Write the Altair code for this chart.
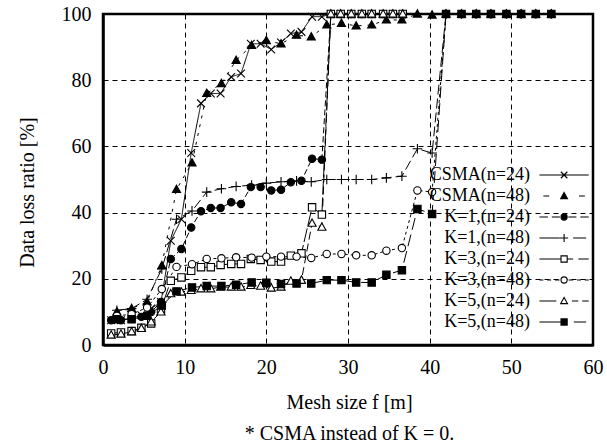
import altair as alt
import pandas as pd

# ---------------- data ----------------
series_names = ["CSMA(n=24)", "CSMA(n=48)", "K=1,(n=24)", "K=1,(n=48)",
                "K=3,(n=24)", "K=3,(n=48)", "K=5,(n=24)", "K=5,(n=48)"]

x_n24 = [1.0, 2.2, 3.5, 4.7, 5.9, 7.1, 8.3, 9.6, 10.8, 12.0, 13.2, 14.4, 15.7, 16.9, 18.1,
         19.3, 20.6, 21.8, 23.0, 24.3, 25.6, 26.8, 27.9, 29.1, 30.4, 31.7, 32.9, 34.3, 35.5, 36.7]
x_n48 = [1.7, 3.5, 5.4, 7.2, 9.0, 10.9, 12.7, 14.5, 16.3, 18.2, 20.0, 21.8, 23.7, 25.5, 27.4,
         29.2, 31.0, 32.9, 34.7, 36.6, 38.5, 40.3, 42.0, 43.9, 45.7, 47.5, 49.4, 51.2, 53.0, 54.9]

csma_n24 = [7.5, 7.5, 8.0, 9.0, 11.0, 13.0, 31.5, 38.0, 58.0, 73.0, 76.0, 76.0, 81.0, 82.0, 91.0,
            91.0, 89.3, 91.4, 94.1, 94.6, 99.2, 99.2, 100, 100, 100, 100, 100, 100, 100, 100]
csma_n48 = [10.0, 11.0, 13.0, 24.0, 47.0, 55.0, 76.0, 79.0, 86.0, 90.5, 92.0, 91.0, 93.6, 93.1, 96.7,
            97.2, 96.4, 96.7, 98.2, 98.2, 100, 99.7, 100, 100, 100, 100, 100, 100, 100, 100]
k1_n24 = [7.5, 7.5, 8.0, 8.5, 10.0, 13.0, 26.0, 29.0, 35.5, 40.4, 41.4, 41.4, 43.1, 42.6, 47.7,
          47.7, 46.7, 46.9, 49.2, 49.6, 56.3, 56.0, 100, 100, 100, 100, 100, 100, 100, 100]
k1_n48 = [10.5, 11.0, 13.8, 23.0, 38.0, 40.5, 46.2, 47.2, 47.9, 48.3, 48.9, 49.3, 49.6, 49.3, 50.0,
          50.0, 50.0, 50.0, 50.5, 51.0, 59.3, 58.0, 100, 100, 100, 100, 100, 100, 100, 100]
k3_n24 = [3.5, 3.8, 4.2, 5.2, 6.5, 10.8, 19.4, 20.4, 22.4, 23.5, 23.5, 24.2, 24.5, 24.5, 26.0,
          25.7, 25.2, 25.2, 27.0, 27.7, 41.6, 39.4, 100, 100, 100, 100, 100, 100, 100, 100]
k3_n48 = [8.8, 9.3, 11.3, 16.9, 23.6, 24.4, 26.0, 26.2, 26.5, 26.4, 26.7, 26.7, 26.7, 26.3, 27.5,
          27.5, 27.1, 27.1, 28.5, 29.3, 46.7, 46.2, 100, 100, 100, 100, 100, 100, 100, 100]
k5_n24 = [3.0, 3.3, 4.0, 5.0, 7.0, 10.0, 15.5, 16.0, 16.5, 17.0, 17.0, 17.5, 17.5, 17.5, 18.0,
          17.8, 17.2, 17.5, 19.3, 19.6, 36.8, 35.6, 100, 100, 100, 100, 100, 100, 100, 100]
k5_n48 = [7.8, 7.8, 8.8, 11.9, 16.2, 17.4, 17.8, 17.8, 18.2, 18.9, 18.8, 18.4, 18.6, 18.6, 19.6,
          19.6, 18.9, 18.9, 21.2, 22.6, 41.1, 39.6, 100, 100, 100, 100, 100, 100, 100, 100]

x_ticks = [0, 10, 20, 30, 40, 50, 60]
y_ticks = [0, 10, 20, 30, 40, 50, 60, 70, 80, 90, 100]

# ---------------- styles ----------------
series_values = [csma_n24, csma_n48, k1_n24, k1_n48, k3_n24, k3_n48, k5_n24, k5_n48]
series_x = [x_n24, x_n48, x_n24, x_n48, x_n24, x_n48, x_n24, x_n48]


def mk_x(c):
    return f"M{c-1},-1L{c+1},1M{c-1},1L{c+1},-1"


def mk_tri(c):
    return f"M{c},-1.1L{c+1.05},0.8L{c-1.05},0.8Z"


def mk_circ(c):
    return f"M{c-0.95},0A0.95,0.95,0,1,0,{c+0.95},0A0.95,0.95,0,1,0,{c-0.95},0Z"


def mk_plus(c):
    return f"M{c-1.25},0H{c+1.25}M{c},-1.25V1.25"


def mk_sq(c):
    return f"M{c-0.95},-0.95H{c+0.95}V0.95H{c-0.95}Z"


marker_fns = [mk_x, mk_tri, mk_circ, mk_plus, mk_sq, mk_circ, mk_tri, mk_sq]
markers = [f(0) for f in marker_fns]
fills = ["black", "black", "black", "black", "white", "white", "white", "black"]
strokes = ["black"] * 8
dashes = [[1, 0], [3, 6], [6, 3], [10, 4], [14, 3], [3, 3], [8, 4], [12, 5]]

# legend line samples (segments in symbol units, around the marker)
legend_segments = [
    [(-7.6, 7.6)],
    [(-6.4, -4.6), (4.6, 6.4)],
    [(-7.6, -5), (-3.8, -1.3), (1.3, 3.8), (5, 7.6)],
    [(-7.6, -1.3), (2.8, 6.8)],
    [(-7.6, -0.95), (0.95, 2.8), (4.4, 7.6)],
    [(-7.6, -6.4), (-5.2, -4), (-2.8, -1.4), (1.4, 2.8), (4, 5.2), (6.4, 7.6)],
    [(-7.6, -2.4), (2.4, 4.4), (5.6, 7.6)],
    [(-7.6, -0.95), (3, 6.8)],
]
SHIFT = 13.3  # draw the sample to the right of the (right-aligned) label
legend_symbols = [
    "".join(f"M{SHIFT + a},0H{SHIFT + b}" for a, b in segs) + fn(SHIFT)
    for segs, fn in zip(legend_segments, marker_fns)
]

rows = []
for name, xs, ys in zip(series_names, series_x, series_values):
    for i, (xv, yv) in enumerate(zip(xs, ys)):
        rows.append({"series": name, "x": xv, "y": yv, "i": i})
df = pd.DataFrame(rows)

FONT = "Liberation Serif"

xenc = alt.X("x:Q", scale=alt.Scale(domain=[0, 60], nice=False, zero=False),
             axis=alt.Axis(values=x_ticks, title=["Mesh size f [m]", "* CSMA instead of K = 0."],
                           titleX=246, titleY=63, titleLineHeight=31,
                           titleBaseline="alphabetic", labelPadding=12, ticks=False,
                           grid=True, labelFlush=False, labelOverlap=False))
yenc = alt.Y("y:Q", scale=alt.Scale(domain=[0, 100], nice=False),
             axis=alt.Axis(values=y_ticks, title="Data loss ratio [%]", titleX=-70, titleY=178,
                           titleBaseline="alphabetic", titleAngle=270, labelPadding=12,
                           ticks=False, grid=True, labelFlush=False, labelOverlap=False))

base = alt.Chart(df)

lines = base.mark_line(color="black", strokeWidth=1, clip=True).encode(
    x=xenc, y=yenc,
    detail="series:N",
    order="i:Q",
    strokeDash=alt.StrokeDash("series:N", scale=alt.Scale(domain=series_names, range=dashes), legend=None),
)

points = base.mark_point(filled=False, color="black", size=60, strokeWidth=1.1, opacity=1).encode(
    x=alt.X("x:Q"), y=alt.Y("y:Q"),
    shape=alt.Shape("series:N", scale=alt.Scale(domain=series_names, range=markers), legend=None),
    fill=alt.Fill("series:N", scale=alt.Scale(domain=series_names, range=fills), legend=None),
)

legend_layer = base.transform_filter("false").mark_point(
    filled=False, color="black", size=42, strokeWidth=1.1, opacity=1).encode(
    x=alt.X("x:Q"), y=alt.Y("y:Q"),
    shape=alt.Shape("series:N", scale=alt.Scale(domain=series_names, range=legend_symbols),
                    legend=alt.Legend(title=None)),
    fill=alt.Fill("series:N", scale=alt.Scale(domain=series_names, range=fills),
                  legend=alt.Legend(title=None)),
    stroke=alt.Stroke("series:N", scale=alt.Scale(domain=series_names, range=strokes),
                      legend=alt.Legend(title=None)),
)

chart = alt.layer(lines, points, legend_layer).resolve_scale(
    shape="independent", fill="independent", stroke="independent"
).properties(
    width=490, height=331,
    autosize=alt.AutoSizeParams(type="none"),
    padding={"left": 103, "top": 14, "right": 14, "bottom": 100},
).configure_view(
    stroke="black", strokeWidth=2.5
).configure_axis(
    domainColor="black", domainWidth=2.5,
    gridColor="black", gridDash=[5, 4], gridWidth=1, gridOpacity=1,
    labelFont=FONT, labelFontSize=20, labelColor="black",
    titleFont=FONT, titleFontSize=20, titleFontWeight="normal", titleColor="black",
).configure_legend(
    orient="none", legendX=409, legendY=152,
    labelFont=FONT, labelFontSize=18, labelColor="black",
    labelAlign="right", labelOffset=0, symbolOffset=0,
    symbolSize=42, symbolStrokeWidth=1.1, symbolStrokeColor="black", symbolOpacity=1,
    rowPadding=3, padding=0, labelLimit=300,
)

chart.save("out.html", embed_options={"renderer": "svg", "actions": False})
